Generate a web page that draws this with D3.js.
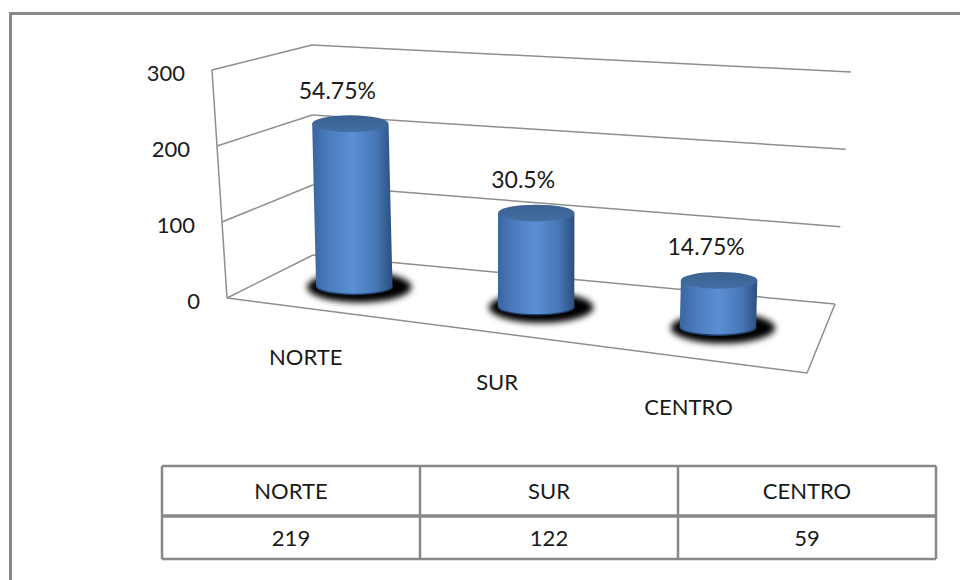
<!DOCTYPE html>
<html>
<head>
<meta charset="utf-8">
<script src="https://cdn.jsdelivr.net/npm/d3@7"></script>
<style>
  body { margin: 0; background: #fff; }
  svg { display: block; }
  text { font-family: Lato, "Open Sans", sans-serif; fill: #1a1a1a; }
</style>
</head>
<body>
<svg></svg>
<script>
const categories = ["NORTE", "SUR", "CENTRO"];
const counts = [219, 122, 59];
const percents = ["54.75%", "30.5%", "14.75%"];
const yTicks = [0, 100, 200, 300];

const width = 960;
const height = 580;

const svg = d3.select("svg")
  .attr("width", width)
  .attr("height", height);

// outer frame
svg.append("rect")
  .attr("x", 10.5).attr("y", 13.5)
  .attr("width", width).attr("height", height)
  .attr("fill", "none")
  .attr("stroke", "#888").attr("stroke-width", 3);

// corners of the 3d box in screen space
// f/b = front/back, l/r = left/right, 0/1 = floor/top
const box = {
  fl0: [227, 298], fl1: [212, 70],
  bl0: [313, 255], bl1: [312, 45],
  fr0: [807, 373], fr1: [809, 123],
  br0: [835, 304], br1: [851, 72]
};

const lerp = (a, b, t) => [a[0] + (b[0] - a[0]) * t, a[1] + (b[1] - a[1]) * t];

// u: left->right, w: front->back, h: floor->top (all 0..1)
const project = (u, w, h) => {
  const f0 = lerp(box.fl0, box.fr0, u), f1 = lerp(box.fl1, box.fr1, u);
  const b0 = lerp(box.bl0, box.br0, u), b1 = lerp(box.bl1, box.br1, u);
  return lerp(lerp(f0, b0, w), lerp(f1, b1, w), h);
};

const y = d3.scaleLinear().domain([0, 300]).range([0, 1]);
const x = d3.scaleBand().domain(categories).range([-0.012, 0.978]);
const xc = (c) => x(c) + x.bandwidth() / 2;

const defs = svg.append("defs");

const side = defs.append("linearGradient").attr("id", "side");
[[0, "#3a66a1"], [0.2, "#4a7bbd"], [0.5, "#5b8fd3"], [0.8, "#4676b5"], [1, "#2b4f80"]]
  .forEach(([o, c]) => side.append("stop").attr("offset", o).attr("stop-color", c));

const topGrad = defs.append("linearGradient").attr("id", "top")
  .attr("x1", 0).attr("y1", 0).attr("x2", 0).attr("y2", 1);
[[0, "#3a6190"], [1, "#436ea2"]]
  .forEach(([o, c]) => topGrad.append("stop").attr("offset", o).attr("stop-color", c));

defs.append("filter").attr("id", "blur")
  .attr("x", "-50%").attr("y", "-50%").attr("width", "200%").attr("height", "200%")
  .append("feGaussianBlur").attr("stdDeviation", 3);

const line = d3.line();
const grid = svg.append("g")
  .attr("fill", "none")
  .attr("stroke", "#8e8e8e")
  .attr("stroke-width", 1.5);

// back wall and side wall gridlines
yTicks.forEach((t) => {
  grid.append("path").attr("d", line([project(0, 1, y(t)), project(1, 1, y(t))]));
  grid.append("path").attr("d", line([project(0, 0, y(t)), project(0, 1, y(t))]));
});
// wall front edge and floor outline
grid.append("path").attr("d", line([project(0, 0, 0), project(0, 0, 1)]));
grid.append("path").attr("d", line([project(0, 0, 0), project(1, 0, 0), project(1, 1, 0)]));

// value axis labels
svg.append("g").selectAll("text")
  .data(yTicks)
  .join("text")
  .attr("x", (d) => project(0, 0, y(d))[0] - 27)
  .attr("y", (d) => project(0, 0, y(d))[1] + 11)
  .attr("text-anchor", "end")
  .style("font-size", "22px")
  .text((d) => d);

// cylinders
const r = x.bandwidth() * 0.21;
const bars = categories.map((c, i) => {
  const p0 = project(xc(c), 0.5, 0);
  const p1 = project(xc(c), 0.5, y(counts[i]));
  const rx = (project(xc(c) + r, 0.5, 0)[0] - project(xc(c) - r, 0.5, 0)[0]) / 2;
  return { c, v: counts[i], pct: percents[i], p0, p1, rx, ry: rx * 0.22 };
});

svg.append("g").selectAll("ellipse")
  .data(bars)
  .join("ellipse")
  .attr("cx", (d) => d.p0[0] + 5)
  .attr("cy", (d) => d.p0[1] + 1)
  .attr("rx", (d) => d.rx + 14)
  .attr("ry", (d) => d.ry + 7)
  .attr("fill", "#000")
  .attr("filter", "url(#blur)");

const cyl = svg.append("g").selectAll("g")
  .data(bars)
  .join("g");

cyl.append("path")
  .attr("fill", "url(#side)")
  .attr("d", (d) => {
    const [x0, y0] = d.p0, [x1, y1] = d.p1;
    return `M${x0 - d.rx},${y0}L${x1 - d.rx},${y1}L${x1 + d.rx},${y1}L${x0 + d.rx},${y0}` +
      `A${d.rx},${d.ry} 0 0 1 ${x0 - d.rx},${y0}Z`;
  });

cyl.append("path")
  .attr("fill", "none")
  .attr("stroke", "#203d66")
  .attr("stroke-width", 1.5)
  .attr("d", (d) => {
    const [x0, y0] = d.p0;
    return `M${x0 + d.rx},${y0}A${d.rx},${d.ry} 0 0 1 ${x0 - d.rx},${y0}`;
  });

cyl.append("ellipse")
  .attr("cx", (d) => d.p1[0])
  .attr("cy", (d) => d.p1[1])
  .attr("rx", (d) => d.rx)
  .attr("ry", (d) => d.ry)
  .attr("fill", "url(#top)");

// data labels
svg.append("g").selectAll("text")
  .data(bars)
  .join("text")
  .attr("x", (d) => d.p1[0] - 13)
  .attr("y", (d) => d.p1[1] - 25)
  .attr("text-anchor", "middle")
  .style("font-size", "23px")
  .text((d) => d.pct);

// category labels
svg.append("g").selectAll("text")
  .data(categories)
  .join("text")
  .attr("x", (d) => project(xc(d), 0, 0)[0] - 10)
  .attr("y", (d) => project(xc(d), 0, 0)[1] + 56)
  .attr("text-anchor", "middle")
  .style("font-size", "22px")
  .text((d) => d);

// data table
const col = d3.scaleBand().domain(categories).range([162, 936]);
const rows = [466, 516, 559];

const table = svg.append("g")
  .attr("fill", "none")
  .attr("stroke", "#888")
  .attr("stroke-width", 2.5);

rows.forEach((ry, i) => {
  table.append("path")
    .attr("stroke-width", i === 1 ? 3.5 : 2.5)
    .attr("d", line([[col.range()[0], ry], [col.range()[1], ry]]));
});
categories.concat([null]).forEach((c) => {
  const cx = c === null ? col.range()[1] : col(c);
  table.append("path").attr("d", line([[cx, rows[0]], [cx, rows[2]]]));
});

const cells = svg.append("g").attr("text-anchor", "middle").style("font-size", "22px");
cells.selectAll(".head")
  .data(categories)
  .join("text")
  .attr("class", "head")
  .attr("x", (d) => col(d) + col.bandwidth() / 2)
  .attr("y", (rows[0] + rows[1]) / 2 + 8)
  .text((d) => d);
cells.selectAll(".val")
  .data(counts)
  .join("text")
  .attr("class", "val")
  .attr("x", (d, i) => col(categories[i]) + col.bandwidth() / 2)
  .attr("y", (rows[1] + rows[2]) / 2 + 8)
  .text((d) => d);
</script>
</body>
</html>
